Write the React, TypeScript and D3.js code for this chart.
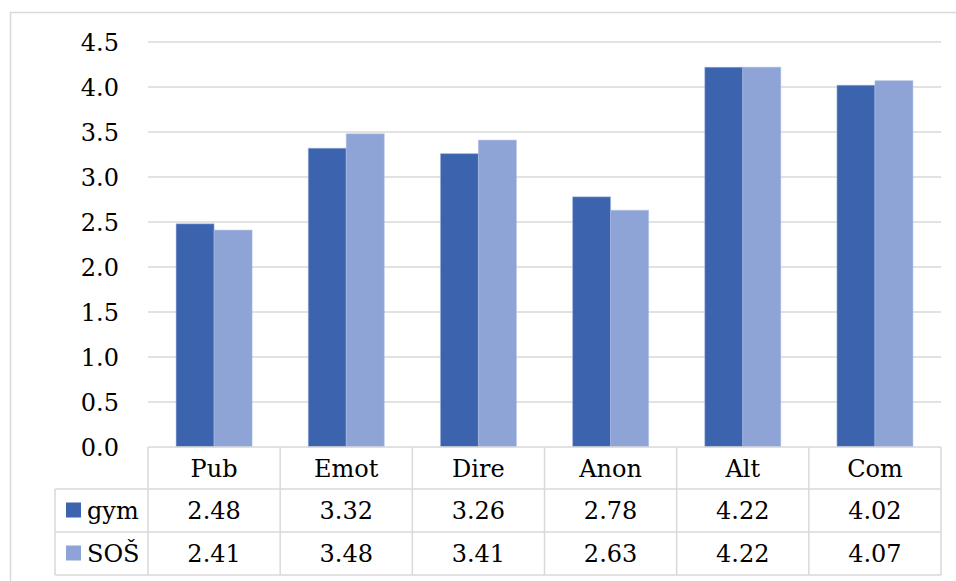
import React from "react";
import * as d3 from "d3";

const categories = ["Pub", "Emot", "Dire", "Anon", "Alt", "Com"];
const seriesNames = ["gym", "SOŠ"];
const gymValues = [2.48, 3.32, 3.26, 2.78, 4.22, 4.02];
const sosValues = [2.41, 3.48, 3.41, 2.63, 4.22, 4.07];
const yTicks = [0, 0.5, 1, 1.5, 2, 2.5, 3, 3.5, 4, 4.5];
const colors = ["#3c64ae", "#8fa4d6"];

export default function App() {
  const W = 956, H = 581;
  const left = 148, right = 941, top = 42, zeroY = 447;
  const y = d3.scaleLinear().domain([0, 4.5]).range([zeroY, top]);
  const x = d3.scaleBand<string>().domain(categories).range([left, right]).paddingInner(0).paddingOuter(0);
  const bw = x.bandwidth();
  const inner = d3.scaleBand<string>().domain(seriesNames).range([0, 76]);
  const series = [gymValues, sosValues];
  const rowTops = [447, 489, 532, 575];
  const legendLeft = 55;
  const grid = "#d9d9d9";
  const font = "'DejaVu Serif', serif";
  const fs = 24;
  const fmt = d3.format(".1f");
  const fmt2 = d3.format(".2f");

  return (
    <svg width={W} height={H} style={{ position: "absolute", left: 0, top: 0, background: "#fff" }}>
      <rect x={10.5} y={12.5} width={W} height={H} fill="#fff" stroke={grid} strokeWidth={1.5} />
      {yTicks.map((t) => (
        <g key={t}>
          {t > 0 && <line x1={left} x2={right} y1={y(t)} y2={y(t)} stroke={grid} strokeWidth={1.5} />}
          <text x={119} y={y(t)} dy="0.36em" textAnchor="end" fontFamily={font} fontSize={fs} fill="#000">
            {fmt(t)}
          </text>
        </g>
      ))}
      {categories.map((c, i) => (
        <g key={c}>
          {series.map((vals, s) => (
            <rect
              key={s}
              x={(x(c) as number) + bw / 2 - 38 + (inner(seriesNames[s]) as number)}
              y={y(vals[i])}
              width={inner.bandwidth()}
              height={zeroY - y(vals[i])}
              fill={colors[s]}
              stroke="#a9bce3"
              strokeOpacity={0.5}
              strokeWidth={1}
            />
          ))}
        </g>
      ))}
      {/* data table */}
      <g stroke={grid} strokeWidth={1.5} fill="none">
        <line x1={left} x2={right} y1={rowTops[0]} y2={rowTops[0]} />
        {rowTops.slice(1).map((r) => (
          <line key={r} x1={legendLeft} x2={right} y1={r} y2={r} />
        ))}
        <line x1={legendLeft} x2={legendLeft} y1={rowTops[1]} y2={rowTops[3]} />
        {categories.map((c) => (
          <line key={c} x1={x(c) as number} x2={x(c) as number} y1={rowTops[0]} y2={rowTops[3]} />
        ))}
        <line x1={right} x2={right} y1={rowTops[0]} y2={rowTops[3]} />
      </g>
      {categories.map((c, i) => (
        <g key={c} fontFamily={font} fontSize={fs} fill="#000" textAnchor="middle">
          <text x={(x(c) as number) + bw / 2} y={(rowTops[0] + rowTops[1]) / 2} dy="0.36em">{c}</text>
          {series.map((vals, s) => (
            <text key={s} x={(x(c) as number) + bw / 2} y={(rowTops[s + 1] + rowTops[s + 2]) / 2} dy="0.36em">
              {fmt2(vals[i])}
            </text>
          ))}
        </g>
      ))}
      {seriesNames.map((n, s) => {
        const cy = (rowTops[s + 1] + rowTops[s + 2]) / 2;
        return (
          <g key={n}>
            <rect x={66} y={cy - 8} width={15} height={15} fill={colors[s]} />
            <text x={87} y={cy} dy="0.36em" fontFamily={font} fontSize={fs} fill="#000">{n}</text>
          </g>
        );
      })}
    </svg>
  );
}
